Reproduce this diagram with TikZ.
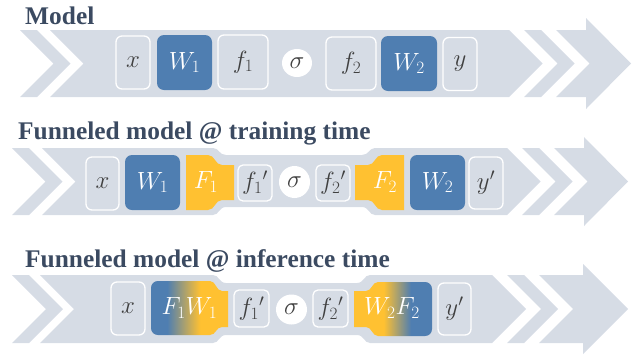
\documentclass[tikz,border=0pt]{standalone}
\usepackage{fontspec}
\setmainfont{Liberation Serif}
\usetikzlibrary{shapes.geometric}
\definecolor{bandc}{HTML}{D6DCE5}
\definecolor{wblue}{HTML}{4F7EB1}
\definecolor{fyel}{HTML}{FFC131}
\definecolor{titc}{HTML}{3B4A61}
\definecolor{mtc}{HTML}{404040}
\pgfdeclarehorizontalshading{bytoy}{100bp}{color(0bp)=(wblue); color(35.5bp)=(wblue); color(57bp)=(fyel); color(100bp)=(fyel)}
\pgfdeclarehorizontalshading{ytob}{100bp}{color(0bp)=(fyel); color(44bp)=(fyel); color(61.5bp)=(wblue); color(100bp)=(wblue)}
\tikzset{
  mt/.style={font=\fontsize{24}{24}\selectfont, text=mtc, inner sep=0pt},
  obox/.style={mt, draw=white, line width=1.3pt, fill=bandc, rounded corners=6pt},
  wbox/.style={mt, fill=wblue, text=white, rounded corners=7pt},
  sig/.style={mt, ellipse, fill=white},
  ftxt/.style={mt, text=white},
  ttl/.style={font=\fontsize{25.4}{30}\selectfont\bfseries, text=titc, inner sep=0pt, anchor=base west},
  bandfill/.style={fill=bandc},
  yelfill/.style={fill=fyel}
}
\begin{document}
\begin{tikzpicture}[x=1pt,y=-1pt]
\useasboundingbox (0,0) rectangle (634,354);
% ---------------- Row 1 ----------------
\node[ttl] (t1) at (25,24) {Model};
\fill[bandfill] (20,30) -- (37,30) -- (70.5,63.5) -- (37,97) -- (20,97) -- (53.5,63.5) -- cycle;
\fill[bandfill] (50,30) -- (509,30) -- (542.5,63.5) -- (509,97) -- (50,97) -- (83.5,63.5) -- cycle;
\fill[bandfill] (524,30) -- (541,30) -- (574.5,63.5) -- (541,97) -- (524,97) -- (557.5,63.5) -- cycle;
\fill[bandfill] (556,30) -- (586,30) -- (586,18) -- (631,63.5) -- (586,109) -- (586,97) -- (556,97) -- (589.5,63.5) -- cycle;
\node[obox, minimum width=34pt, minimum height=53pt] (xa) at (133,62.5) {$x$};
\node[wbox, minimum width=55pt, minimum height=55pt] (W1a) at (184.5,62.5) {$W_1$};
\node[obox, minimum width=50pt, minimum height=54pt] (f1a) at (243,62) {$f_1$};
\node[sig, minimum width=30pt, minimum height=28pt] (sa) at (297,63) {$\sigma$};
\node[obox, minimum width=50pt, minimum height=53pt] (f2a) at (351,63.5) {$f_2$};
\node[wbox, minimum width=56pt, minimum height=55pt] (W2a) at (409,63.5) {$W_2$};
\node[obox, minimum width=34pt, minimum height=53pt] (ya) at (460,64) {$y$};
% ---------------- Row 2 ----------------
\node[ttl] (t2) at (18,139) {Funneled model @ training time};
\fill[bandfill] (12,148) -- (29,148) -- (62.5,181.5) -- (29,215) -- (12,215) -- (45.5,181.5) -- cycle;
\fill[bandfill] (42,148) -- (213,148) .. controls (219,148) and (219,155) .. (226,155) -- (362,155)
  .. controls (369,155) and (369,148) .. (375,148) -- (507,148) -- (540.5,181.5) -- (507,215) -- (375,215)
  .. controls (369,215) and (369,207) .. (362,207) -- (226,207) .. controls (219,207) and (219,215) .. (213,215)
  -- (42,215) -- (75.5,181.5) -- cycle;
\fill[bandfill] (522,148) -- (539,148) -- (572.5,181.5) -- (539,215) -- (522,215) -- (555.5,181.5) -- cycle;
\fill[bandfill] (554,148) -- (584,148) -- (584,137) -- (628,181.5) -- (584,226) -- (584,215) -- (554,215) -- (587.5,181.5) -- cycle;
\node[obox, minimum width=33pt, minimum height=53pt] (xb) at (102.5,183.5) {$x$};
\node[wbox, minimum width=55pt, minimum height=55pt] (W1b) at (152.5,182.5) {$W_1$};
\fill[yelfill] (186,155) -- (208,155) .. controls (215,155) and (215,165) .. (222,165) -- (234,165) -- (234,200)
  -- (222,200) .. controls (215,200) and (215,210) .. (208,210) -- (186,210) -- cycle;
\node[ftxt] (F1b) at (206,182) {$F_1$};
\node[obox, minimum width=34pt, minimum height=36pt, rounded corners=5pt] (f1b) at (255,183) {$f_1{}'$};
\node[sig, minimum width=31pt, minimum height=32pt] (sb) at (294.5,182) {$\sigma$};
\node[obox, minimum width=34pt, minimum height=36pt, rounded corners=5pt] (f2b) at (333,183) {$f_2{}'$};
\fill[yelfill] (404,155) -- (382,155) .. controls (375,155) and (375,165) .. (368,165) -- (355,165) -- (355,200)
  -- (368,200) .. controls (375,200) and (375,210) .. (382,210) -- (404,210) -- cycle;
\node[ftxt] (F2b) at (385,182) {$F_2$};
\node[wbox, minimum width=55pt, minimum height=55pt] (W2b) at (437.5,182.5) {$W_2$};
\node[obox, minimum width=34pt, minimum height=52pt] (yb) at (486,183) {$y'$};
% ---------------- Row 3 ----------------
\node[ttl] (t3) at (25,267) {Funneled model @ inference time};
\fill[bandfill] (12,275) -- (29,275) -- (63,309) -- (29,343) -- (12,343) -- (46,309) -- cycle;
\fill[bandfill] (40,275) -- (213,275) .. controls (219,275) and (219,283) .. (226,283) -- (357,283)
  .. controls (364,283) and (364,275) .. (370,275) -- (492,275) -- (526,309) -- (492,343) -- (370,343)
  .. controls (364,343) and (364,335) .. (357,335) -- (226,335) .. controls (219,335) and (219,343) .. (213,343)
  -- (40,343) -- (74,309) -- cycle;
\fill[bandfill] (507,275) -- (524,275) -- (558,309) -- (524,343) -- (507,343) -- (541,309) -- cycle;
\fill[bandfill] (539,275) -- (583,275) -- (583,264) -- (628,309) -- (583,354) -- (583,343) -- (539,343) -- (573,309) -- cycle;
\node[obox, minimum width=34pt, minimum height=53pt] (xc) at (128,308.5) {$x$};
\shade[shading=bytoy] (158,281) -- (210,281) .. controls (216,281) and (216,291) .. (222,291) -- (228,291)
  -- (228,327) -- (222,327) .. controls (216,327) and (216,335) .. (210,335) -- (158,335)
  .. controls (154,335) and (151,332) .. (151,328) -- (151,288) .. controls (151,284) and (154,281) .. (158,281) -- cycle;
\node[ftxt] (F1W1c) at (189.5,308) {$F_1W_1$};
\node[obox, minimum width=35pt, minimum height=37pt, rounded corners=5pt] (f1c) at (251.5,308.5) {$f_1{}'$};
\node[sig, minimum width=31pt, minimum height=30pt] (sc) at (291.5,309.5) {$\sigma$};
\node[obox, minimum width=35pt, minimum height=37pt, rounded corners=5pt] (f2c) at (330.5,308.5) {$f_2{}'$};
\shade[shading=ytob] (354,291) -- (366,291) .. controls (372,291) and (372,282) .. (378,282) -- (425,282)
  .. controls (429,282) and (432,285) .. (432,289) -- (432,329) .. controls (432,333) and (429,336) .. (425,336)
  -- (378,336) .. controls (372,336) and (372,327) .. (366,327) -- (354,327) -- cycle;
\node[ftxt] (W2F2c) at (392,308) {$W_2F_2$};
\node[obox, minimum width=33pt, minimum height=52pt] (yc) at (454.5,309) {$y'$};
\end{tikzpicture}
\end{document}
